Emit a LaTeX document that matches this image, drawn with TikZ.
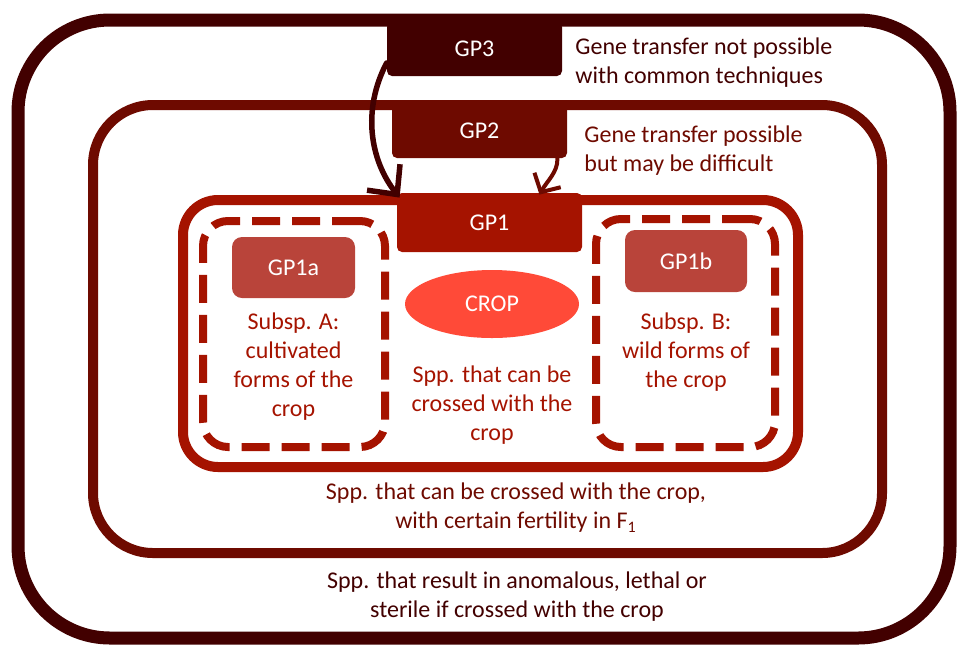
\documentclass[tikz,border=0pt]{standalone}
\usepackage{fontspec}
\setmainfont{Carlito}
\usetikzlibrary{arrows.meta,positioning,shapes.geometric,calc}
\definecolor{gpthree}{HTML}{420000}
\definecolor{gptwo}{HTML}{6E0A00}
\definecolor{gpone}{HTML}{A51300}
\definecolor{gpsub}{HTML}{B9443A}
\definecolor{gpcrop}{HTML}{FF4A38}
\tikzset{
  pool/.style={rectangle,draw,line width=5pt,inner sep=0pt},
  subpool/.style={rectangle,draw=gpone,line width=4pt,dash pattern=on 14pt off 6pt,rounded corners=12.5pt,inner sep=0pt},
  tag/.style={rectangle,text=white,font=\fontsize{12}{14}\selectfont,inner sep=0pt,rounded corners=2.5pt},
  subtag/.style={tag,fill=gpsub,rounded corners=5pt},
  note/.style={inner sep=0pt,align=center,font=\fontsize{12}{14.5}\selectfont},
  jump/.style={line cap=round,line join=round}
}
\begin{document}
\begin{tikzpicture}[x=0.5pt,y=-0.5pt]
  \useasboundingbox (0,0) rectangle (957,644);

  \node[pool,draw=gpthree,line width=6.5pt,rounded corners=46pt,minimum width=466pt,minimum height=309pt] (pool3) at (484,329) {};
  \node[pool,draw=gptwo,rounded corners=30pt,minimum width=394.5pt,minimum height=224pt] (pool2) at (487.5,329) {};
  \node[pool,draw=gpone,rounded corners=17.5pt,minimum width=307.5pt,minimum height=133.5pt] (pool1) at (490.5,333.5) {};
  \node[subpool,minimum width=91pt,minimum height=113pt] (poola) at (294,334) {};
  \node[subpool,minimum width=89.5pt,minimum height=114pt] (poolb) at (685.5,333) {};

  \node[tag,fill=gpthree,minimum width=87.5pt,minimum height=27pt] (gp3) at (474.5,49) {GP3};
  \node[tag,fill=gptwo,minimum width=87.5pt,minimum height=27.5pt] (gp2) at (479.5,130.5) {GP2};
  \node[tag,fill=gpone,minimum width=92.5pt,minimum height=29.5pt] (gp1) at (489.5,222.5) {GP1};
  \node[subtag,minimum width=61.5pt,minimum height=30.5pt] (gp1a) at (293.5,267.5) {GP1a};
  \node[subtag,minimum width=61pt,minimum height=31pt] (gp1b) at (686,261) {GP1b};
  \node[ellipse,fill=gpcrop,text=white,font=\fontsize{12}{14}\selectfont,inner sep=0pt,minimum width=87pt,minimum height=34pt] (crop) at (492,304) {CROP};

  \node[note,text=gpthree,align=left,anchor=west] (farnote) at (575,63) {Gene transfer not possible\\with common techniques};
  \node[note,text=gptwo,align=left,anchor=west] (midnote) at (584,151) {Gene transfer possible\\but may be difficult};
  \node[note,text=gpone,below=7pt of gp1a] (anote) {Subsp. A:\\cultivated\\forms of the\\crop};
  \node[note,text=gpone,below=10pt of gp1b] (bnote) {Subsp. B:\\wild forms of\\the crop};
  \node[note,text=gpone,below=13.5pt of crop] (cropnote) {Spp. that can be\\crossed with the\\crop};
  \node[note,text=gptwo] (fertnote) at (516,508) {Spp. that can be crossed with the crop,\\with certain fertility in F\textsubscript{1}};
  \node[note,text=gpthree] (sterilenote) at (517,597) {Spp. that result in anomalous, lethal or\\sterile if crossed with the crop};

  \draw[jump,draw=gpthree,line width=2.75pt,-{Straight Barb[length=11pt,width=21pt,line width=2.75pt]}] ($(gp3.west)+(0,14)$) .. controls (362,110) and (370,160) .. ($(gp1.north west)+(3,5)$);
  \draw[jump,draw=gptwo,line width=2pt,-{Straight Barb[length=7pt,width=15pt,line width=2pt]}] ($(gp2.south east)+(-10,0)$) .. controls (558,172) and (547,181) .. ($(gp1.north)+(50,2)$);
\end{tikzpicture}
\end{document}
